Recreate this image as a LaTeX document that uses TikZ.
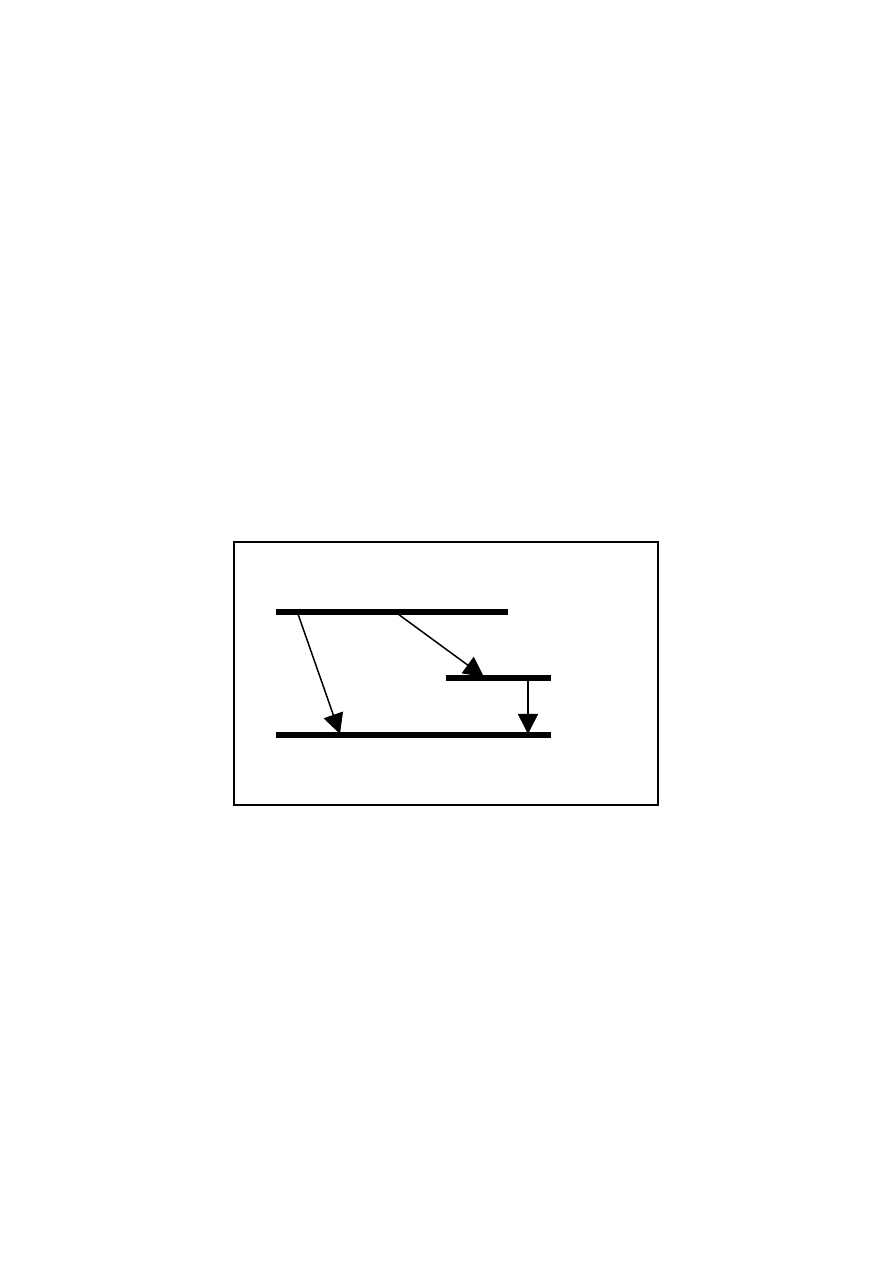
\documentclass[tikz,border=0pt]{standalone}
\usetikzlibrary{arrows.meta}

\begin{document}
\begin{tikzpicture}[
	x=0.6667pt, y=-0.6667pt,
	level/.style = {line width=3.5pt},
	jump/.style = {line width=1pt, -{Triangle[length=13.5pt, width=13.5pt]}},
	frame/.style = {line width=0.7pt}
     ]
		\useasboundingbox[fill=white] (0,0) rectangle (893,1263);
		\draw[frame] (234,542) rectangle (658,805);
%
		\coordinate (top-l) at (276,612);
		\coordinate (top-r) at (508,612);
		\coordinate (mid-l) at (446,678);
		\coordinate (mid-r) at (551,678);
		\coordinate (bot-l) at (276,735);
		\coordinate (bot-r) at (551,735);
%
		\draw[level] (top-l) -- (top-r);
		\draw[level] (mid-l) -- (mid-r);
		\draw[level] (bot-l) -- (bot-r);
%
		\coordinate (a1) at (298,614);
		\coordinate (b1) at (340,734);
		\coordinate (a2) at (398,614);
		\coordinate (b2) at (484,677);
		\coordinate (a3) at (528,680);
		\coordinate (b3) at (528,734);
%
		\draw[jump] (a1) -- (b1);
		\draw[jump] (a2) -- (b2);
		\draw[jump] (a3) -- (b3);
\end{tikzpicture}
\end{document}
